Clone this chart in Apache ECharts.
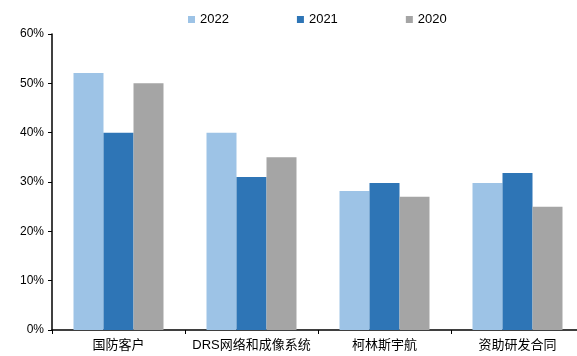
<!DOCTYPE html>
<html><head><meta charset="utf-8">
<script src="https://cdn.jsdelivr.net/npm/echarts@6/dist/echarts.min.js"></script>
<style>html,body{margin:0;padding:0;background:#fff;overflow:hidden;width:577px;height:356px}#c{width:600px;height:356px}</style>
</head><body><div id="c"></div>
<script>
const categories = ['国防客户', 'DRS网络和成像系统', '柯林斯宇航', '资助研发合同'];
const seriesNames = ['2022', '2021', '2020'];
const v2022 = [52.1, 40.0, 28.2, 29.8];
const v2021 = [40.0, 31.0, 29.8, 31.8];
const v2020 = [50.0, 35.0, 27.0, 25.0];
const colors = ['#9DC3E6', '#2E75B6', '#A5A5A5'];
const chart = echarts.init(document.getElementById('c'));
const font = '"Liberation Sans", Arial, "Noto Sans CJK SC", sans-serif';
chart.setOption({
  animation: false,
  textStyle: { fontFamily: font },
  legend: {
    data: seriesNames, left: 183, top: 8, itemWidth: 7, itemHeight: 7, itemGap: 68,
    icon: 'rect', textStyle: { fontSize: 13, color: '#000', fontFamily: font }
  },
  grid: { left: 52, top: 34, width: 532, bottom: 26, containLabel: false },
  xAxis: {
    type: 'category', data: categories,
    axisLine: { lineStyle: { color: '#000', width: 1.5 } },
    axisTick: { show: true, length: 4, lineStyle: { color: '#000' } },
    axisLabel: { color: '#000', fontSize: 13, margin: 9, interval: 0, fontFamily: font }
  },
  yAxis: {
    type: 'value', min: 0, max: 60, interval: 10,
    axisLine: { show: true, lineStyle: { color: '#000', width: 1.5 } },
    axisTick: { show: true, length: 4, lineStyle: { color: '#000' } },
    splitLine: { show: false },
    axisLabel: { color: '#000', fontSize: 12, margin: 8, formatter: '{value}%', fontFamily: font }
  },
  series: [
    { name: '2022', type: 'bar', data: v2022, barWidth: 30, barGap: '0%', itemStyle: { color: colors[0] } },
    { name: '2021', type: 'bar', data: v2021, barWidth: 30, barGap: '0%', itemStyle: { color: colors[1] } },
    { name: '2020', type: 'bar', data: v2020, barWidth: 30, barGap: '0%', itemStyle: { color: colors[2] } }
  ]
});
</script></body></html>
